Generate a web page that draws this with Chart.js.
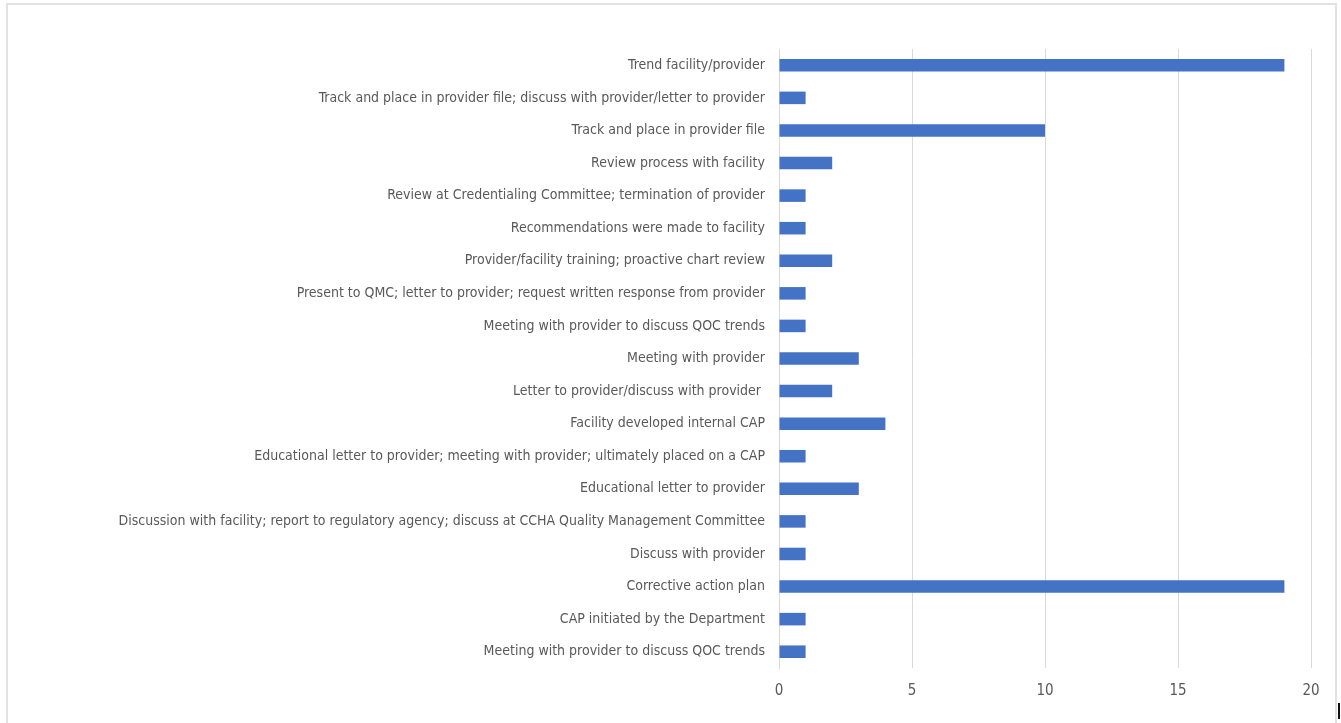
<!DOCTYPE html>
<html>
<head>
<meta charset="utf-8">
<script src="https://cdn.jsdelivr.net/npm/chart.js@4/dist/chart.umd.min.js"></script>
<style>
  html, body { margin: 0; padding: 0; background: #fff; overflow: hidden; }
  #frame { position: absolute; left: 6px; top: 3px; width: 1327px; height: 740px; border: 2px solid #e2e2e2; border-bottom: none; }
  #wrap { position: absolute; left: 0; top: 0; width: 1341px; height: 723px; }
  #mark { position: absolute; left: 1338px; top: 703px; width: 2px; height: 16px; background: #111; }
</style>
</head>
<body>
<div id="frame"></div>
<div id="wrap"><canvas id="c" width="1341" height="723"></canvas></div>
<div id="mark"></div>
<script>
const categories = [
  "Trend facility/provider",
  "Track and place in provider file; discuss with provider/letter to provider",
  "Track and place in provider file",
  "Review process with facility",
  "Review at Credentialing Committee; termination of provider",
  "Recommendations were made to facility",
  "Provider/facility training; proactive chart review",
  "Present to QMC; letter to provider; request written response from provider",
  "Meeting with provider to discuss QOC trends",
  "Meeting with provider",
  "Letter to provider/discuss with provider ",
  "Facility developed internal CAP",
  "Educational letter to provider; meeting with provider; ultimately placed on a CAP",
  "Educational letter to provider",
  "Discussion with facility; report to regulatory agency; discuss at CCHA Quality Management Committee",
  "Discuss with provider",
  "Corrective action plan",
  "CAP initiated by the Department",
  "Meeting with provider to discuss QOC trends"
];
const counts = [19, 1, 10, 2, 1, 1, 2, 1, 1, 3, 2, 4, 1, 3, 1, 1, 19, 1, 1];
const xTicks = [0, 5, 10, 15, 20];

const FONT = "'Liberation Sans Narrow', 'DejaVu Sans Condensed', 'Roboto Condensed', sans-serif";

new Chart(document.getElementById('c'), {
  type: 'bar',
  data: {
    labels: categories,
    datasets: [{
      data: counts,
      backgroundColor: '#4472C4',
      borderWidth: 0,
      barPercentage: 0.385,
      categoryPercentage: 1
    }]
  },
  options: {
    indexAxis: 'y',
    responsive: false,
    animation: false,
    events: [],
    layout: { padding: { top: 49, right: 30, left: 0, bottom: 0 } },
    plugins: { legend: { display: false }, tooltip: { enabled: false } },
    scales: {
      x: {
        min: 0, max: 20,
        afterBuildTicks: (axis) => { axis.ticks = xTicks.map(v => ({ value: v })); },
        grid: { color: '#d9d9d9', lineWidth: 1, drawTicks: false },
        border: { display: false },
        ticks: { color: '#595959', font: { family: FONT, size: 15 }, padding: 14 },
        afterFit: (axis) => { axis.height = 55; }
      },
      y: {
        grid: { display: false, drawTicks: false },
        border: { display: true, color: '#d9d9d9', width: 1 },
        ticks: { color: '#595959', font: { family: FONT, size: 14 }, padding: 14, autoSkip: false },
        afterFit: (axis) => { axis.width = 779; }
      }
    }
  }
});
</script>
</body>
</html>
